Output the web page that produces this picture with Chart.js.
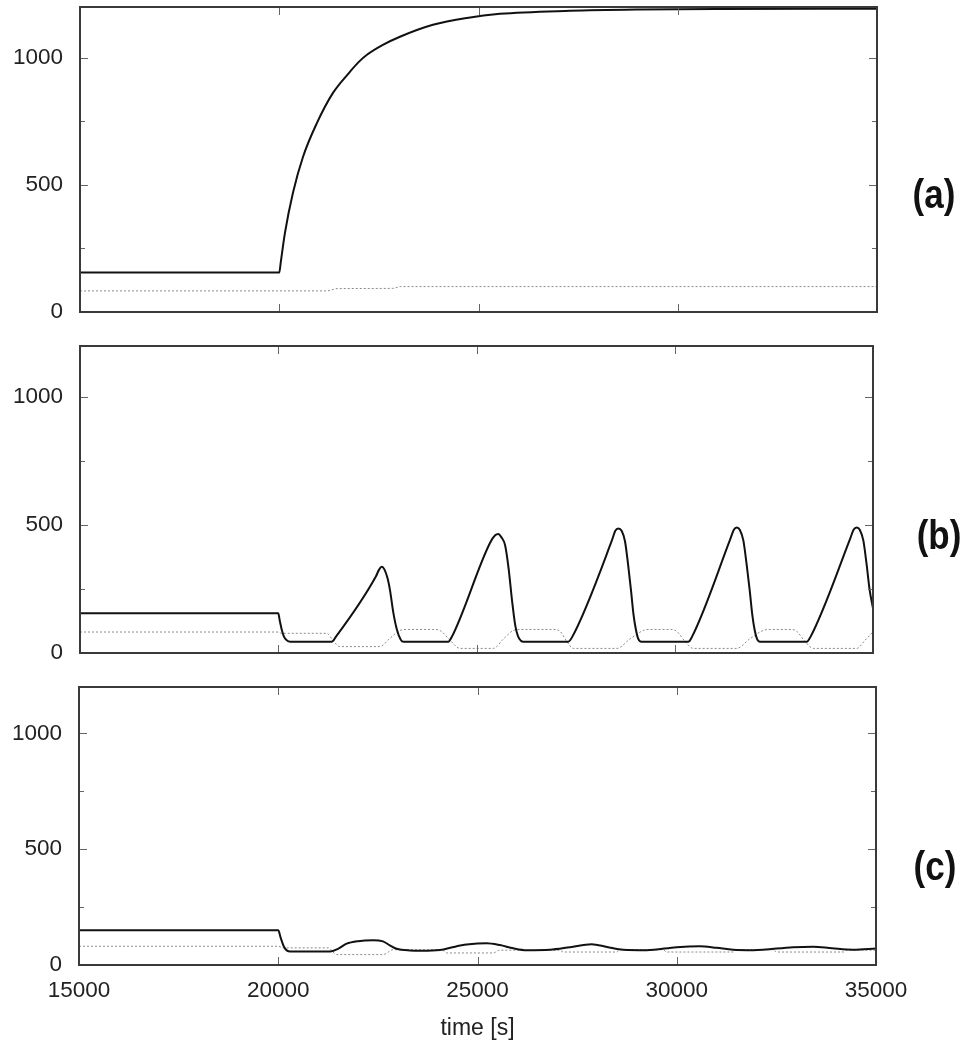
<!DOCTYPE html>
<html>
<head>
<meta charset="utf-8">
<script src="https://cdn.jsdelivr.net/npm/chart.js@4.4.1/dist/chart.umd.min.js"></script>
<style>
  html, body { margin: 0; padding: 0; background: #ffffff; }
  #wrap { position: relative; width: 970px; height: 1049px; overflow: hidden; }
  #wrap canvas { position: absolute; left: 0; top: 0; }
</style>
</head>
<body>
<div id="wrap">
  <canvas id="pa" width="970" height="1049"></canvas>
  <canvas id="pb" width="970" height="1049"></canvas>
  <canvas id="pc" width="970" height="1049"></canvas>
</div>
<script>
// ---------------- data ----------------
const xTickValues = [15000, 20000, 25000, 30000, 35000];
const yTickValues = [0, 250, 500, 750, 1000];
const yTickLabelled = [0, 500, 1000];
const panelLabels = ['(a)', '(b)', '(c)'];
const xAxisTitle = 'time [s]';

// panel (a)
const timeA_solid = [15000, 20000, 20040, 20143, 20344, 20595, 20947, 21348, 21774, 21990, 22201, 22600, 23029, 23857, 24710, 25538, 27294, 29050, 31000, 35000];
const valueA_solid = [155, 155, 198, 311, 469, 610, 744, 862, 945, 983, 1012, 1051, 1083, 1130, 1157, 1173, 1185, 1190, 1192, 1193];
const timeA_dotted = [15000, 21200, 21450, 22850, 23050, 35000];
const valueA_dotted = [83, 83, 92, 93, 100, 100];

// panel (b)
const timeB_solid = [15000, 20000, 20040, 20090, 20150, 20213, 20300,
  21348, 21456, 22465, 22540, 22609, 22680, 22760, 22818, 22900, 22995, 23090, 23160,
  24288, 24380, 25340, 25470, 25550, 25630, 25720, 25810, 25895, 25975, 26046, 26120, 26180,
  27315, 27411, 28417, 28500, 28577, 28660, 28745, 28820, 28896, 28960, 29022, 29080, 29160,
  30342, 30430, 31400, 31490, 31563, 31640, 31730, 31810, 31890, 31955, 32015, 32075, 32150,
  33328, 33420, 34420, 34510, 34589, 34666, 34756, 34836, 34916, 35000];
const valueB_solid = [155, 155, 125, 90, 62, 50, 44,
  44, 64, 300, 325, 337, 326, 290, 246, 160, 90, 52, 44,
  44, 64, 430, 460, 465, 452, 422, 330, 207, 110, 66, 48, 44,
  44, 62, 441, 478, 487, 478, 437, 350, 246, 150, 90, 55, 44,
  44, 62, 445, 482, 491, 482, 440, 350, 246, 150, 90, 55, 44,
  44, 62, 445, 482, 491, 482, 440, 350, 246, 175];
const timeB_dotted = [15000, 20000, 20080, 21220, 21400, 21560, 22560, 22800, 23070, 23250, 23900, 24079, 24330, 24584,
  25424, 25680, 25929, 26100, 26950, 27106, 27280, 27441, 28543, 28870, 29207, 29350, 29900, 30049, 30260, 30470,
  31560, 31890, 32230, 32400, 32950, 33075, 33285, 33495, 34590, 34800, 35000];
const valueB_dotted = [82, 82, 77, 77, 45, 25, 25, 55, 88, 92, 92, 88, 50, 18,
  18, 55, 88, 92, 92, 85, 45, 18, 18, 55, 88, 92, 92, 85, 45, 18,
  18, 55, 88, 92, 92, 85, 45, 18, 18, 50, 83];

// panel (c)
const timeC_solid = [15000, 20000, 20060, 20140, 20220, 20300, 21300, 21500, 21716, 22000, 22384, 22628, 22800, 22972, 23300, 23600, 24058, 24400, 24728, 25230, 25563, 25900, 26233, 26818, 27320, 27863, 28250, 28657, 29244, 29996, 30580, 31000, 31416, 31918, 32922, 33424, 33900, 34427, 35000];
const valueC_solid = [150, 150, 118, 80, 62, 58, 58, 70, 92, 103, 107, 102, 85, 70, 63, 62, 65, 78, 88, 94, 86, 72, 64, 66, 77, 90, 78, 66, 64, 77, 81, 74, 66, 64, 77, 79, 72, 66, 71];
const timeC_dotted = [15000, 20000, 20120, 21250, 21466, 22636, 22880, 24100, 24226, 25396, 25563, 27068, 27150, 28490, 28574, 29660, 29744, 31416, 31500, 32420, 32500, 34180, 34260, 35000];
const valueC_dotted = [81, 81, 74, 74, 45, 45, 66, 66, 52, 52, 64, 64, 56, 56, 66, 66, 56, 56, 66, 66, 56, 56, 64, 64];

// ---------------- layout / style ----------------
const W = 970, H = 1049;
const FONT = '"Liberation Sans", Arial, Helvetica, sans-serif';

function pts(t, v) { return t.map((x, i) => ({ x: x, y: v[i] })); }

const framePlugin = {
  id: 'frame',
  afterDraw(chart, args, opts) {
    const ctx = chart.ctx, a = chart.chartArea;
    const xs = chart.scales.x, ys = chart.scales.y;
    ctx.save();
    ctx.strokeStyle = '#666';
    ctx.lineWidth = 1;
    ctx.beginPath();
    xTickValues.forEach(v => {
      if (v <= xs.min || v >= xs.max) return;
      const px = Math.round(xs.getPixelForValue(v)) + 0.5;
      ctx.moveTo(px, a.bottom); ctx.lineTo(px, a.bottom - 8);
      ctx.moveTo(px, a.top); ctx.lineTo(px, a.top + 8);
    });
    yTickValues.forEach(v => {
      if (v <= ys.min || v >= ys.max) return;
      const len = yTickLabelled.includes(v) ? 8 : 5;
      const py = Math.round(ys.getPixelForValue(v)) + 0.5;
      ctx.moveTo(a.left, py); ctx.lineTo(a.left + len, py);
      ctx.moveTo(a.right, py); ctx.lineTo(a.right - len, py);
    });
    ctx.stroke();
    ctx.strokeStyle = '#3a3a3a';
    ctx.lineWidth = 2;
    ctx.strokeRect(a.left, a.top, a.right - a.left, a.bottom - a.top);
    // panel label
    ctx.fillStyle = '#111';
    ctx.font = 'bold 35px ' + FONT;
    ctx.textAlign = 'center';
    ctx.textBaseline = 'middle';
    ctx.translate(opts.lx, opts.ly);
    ctx.scale(1, 1.15);
    ctx.fillText(opts.label, 0, 0);
    ctx.restore();
  }
};

function makePanel(id, tS, vS, tD, vD, g, label, showX) {
  return new Chart(document.getElementById(id), {
    type: 'line',
    data: {
      datasets: [
        { data: pts(tS, vS), borderColor: '#111111', borderWidth: 2, pointRadius: 0,
          cubicInterpolationMode: 'monotone', fill: false },
        { data: pts(tD, vD), borderColor: '#8a8a8a', borderWidth: 1, borderDash: [2, 2], pointRadius: 0,
          cubicInterpolationMode: 'monotone', fill: false }
      ]
    },
    options: {
      responsive: false,
      animation: false,
      devicePixelRatio: 1,
      events: [],
      layout: { autoPadding: false, padding: { left: 0, top: g.t, right: W - g.r, bottom: H - g.b - g.xh } },
      plugins: {
        legend: { display: false },
        tooltip: { enabled: false },
        frame: { label: label, lx: g.lx, ly: g.ly }
      },
      scales: {
        x: {
          type: 'linear', min: 15000, max: 35000,
          grid: { display: false, drawTicks: false }, border: { display: false },
          afterBuildTicks: s => { s.ticks = xTickValues.map(v => ({ value: v })); },
          afterFit: s => { s.height = g.xh; s.paddingLeft = 0; s.paddingRight = 0; s.paddingTop = 0; s.paddingBottom = 0; },
          ticks: { display: showX, autoSkip: false, maxRotation: 0, minRotation: 0, padding: 12, color: '#222',
                   font: { family: FONT, size: 22.5 }, callback: v => String(v) },
          title: { display: showX, text: xAxisTitle, color: '#222', font: { family: FONT, size: 23 },
                   padding: { top: 0, bottom: 0 } }
        },
        y: {
          type: 'linear', min: 0, max: 1200,
          grid: { display: false, drawTicks: false }, border: { display: false },
          afterBuildTicks: s => { s.ticks = yTickValues.map(v => ({ value: v })); },
          afterFit: s => { s.width = g.l; s.paddingLeft = 0; s.paddingRight = 0; s.paddingTop = 0; s.paddingBottom = 0; },
          ticks: { padding: 17, color: '#222', font: { family: FONT, size: 22.5 },
                   callback: v => yTickLabelled.includes(v) ? String(v) : '' }
        }
      }
    },
    plugins: [framePlugin]
  });
}

makePanel('pa', timeA_solid, valueA_solid, timeA_dotted, valueA_dotted,
  { l: 80, r: 877, t: 7, b: 312, xh: 0, lx: 934, ly: 197 }, panelLabels[0], false);
makePanel('pb', timeB_solid, valueB_solid, timeB_dotted, valueB_dotted,
  { l: 80, r: 873, t: 346, b: 653, xh: 0, lx: 939, ly: 538 }, panelLabels[1], false);
makePanel('pc', timeC_solid, valueC_solid, timeC_dotted, valueC_dotted,
  { l: 79, r: 876, t: 687, b: 965, xh: 77, lx: 935, ly: 869 }, panelLabels[2], true);
</script>
</body>
</html>
